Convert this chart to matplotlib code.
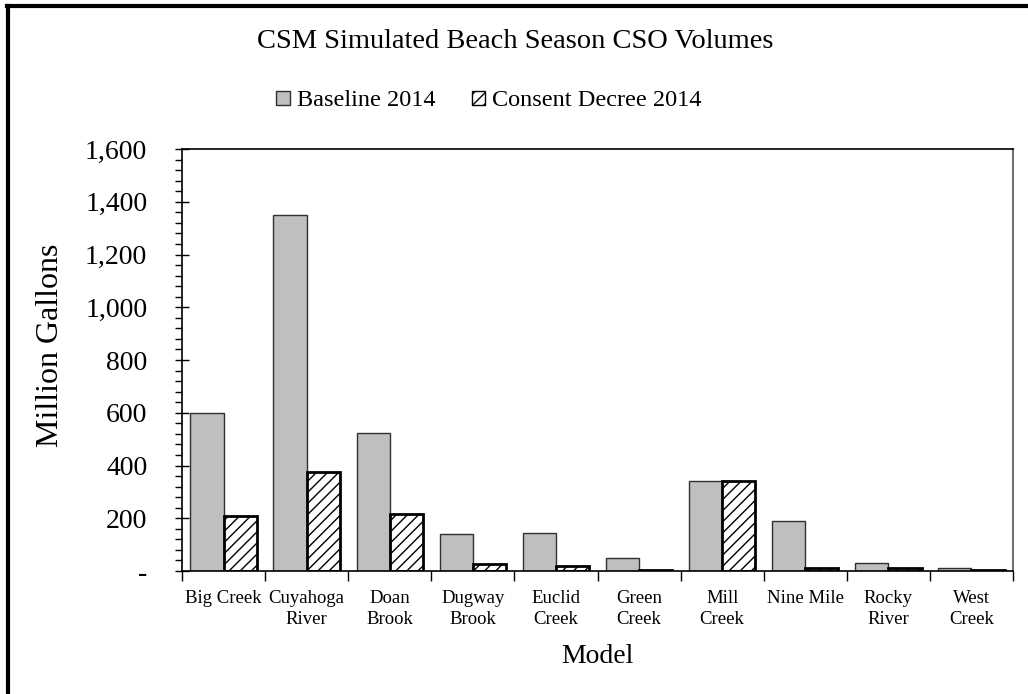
import matplotlib
matplotlib.use("Agg")
import matplotlib.pyplot as plt
import numpy as np
from matplotlib.lines import Line2D
from matplotlib.ticker import MultipleLocator, FuncFormatter

plt.rcParams['font.family'] = ['Liberation Serif', 'DejaVu Serif']
plt.rcParams['hatch.linewidth'] = 1.0

categories = ["Big Creek", "Cuyahoga\nRiver", "Doan\nBrook", "Dugway\nBrook", "Euclid\nCreek",
              "Green\nCreek", "Mill\nCreek", "Nine Mile", "Rocky\nRiver", "West\nCreek"]
baseline_2014 = [600, 1350, 525, 140, 145, 48, 340, 188, 30, 12]
consent_decree_2014 = [210, 375, 215, 25, 20, 3, 340, 10, 10, 3]
series_names = ["Baseline 2014", "Consent Decree 2014"]

fig = plt.figure(figsize=(10.28, 6.94), dpi=100)
ax = fig.add_axes([182/1028, 1 - 571/694, (1013 - 182)/1028, (571 - 149)/694])

x = np.arange(len(categories))
w = 0.4
ax.bar(x - w/2, baseline_2014, width=w, color="#bfbfbf", edgecolor="#303030",
       linewidth=1.0, label=series_names[0], zorder=2)
ax.bar(x + w/2, consent_decree_2014, width=w, color="white", edgecolor="black",
       hatch="///", linewidth=2.0, label=series_names[1], zorder=2)

ax.set_xlim(-0.5, len(categories) - 0.5)
ax.set_ylim(0, 1600)

ax.yaxis.set_major_locator(MultipleLocator(200))
ax.yaxis.set_minor_locator(MultipleLocator(40))
ax.yaxis.set_major_formatter(FuncFormatter(lambda v, p: "-" if v == 0 else f"{int(v):,}"))
ax.tick_params(axis='y', which='major', direction='inout', length=10, width=1,
               labelsize=20, pad=20)
ax.tick_params(axis='y', which='minor', direction='out', length=5, width=1)

ax.set_xticks(x)
ax.set_xticklabels(categories, fontsize=13.5, linespacing=1.3)
ax.tick_params(axis='x', which='major', length=0, pad=14)
ax.set_xticks(np.arange(len(categories) + 1) - 0.5, minor=True)
ax.tick_params(axis='x', which='minor', direction='out', length=7, width=1)

for side in ['left', 'bottom', 'top']:
    ax.spines[side].set_color('black')
    ax.spines[side].set_linewidth(1.2)
ax.spines['right'].set_color('#707070')
ax.spines['right'].set_linewidth(1.5)

ax.set_ylabel("Million Gallons", fontsize=23)
ax.yaxis.set_label_coords(-0.141, 0.535)
ax.set_xlabel("Model", fontsize=20)
ax.xaxis.set_label_coords(0.5, -0.172)

fig.text(0.501, 1 - 42/694, "CSM Simulated Beach Season CSO Volumes",
         ha='center', va='center', fontsize=20.5)

leg = fig.legend(loc='center', bbox_to_anchor=(0.4757, 1 - 101/694), ncol=2,
                 frameon=False, fontsize=17.5, handlelength=0.55, handleheight=0.55,
                 handletextpad=0.3, columnspacing=1.5)
for h in leg.legend_handles:
    h.set_linewidth(1.0)

# outer frame (top and left edges)
fig.add_artist(Line2D([7/1028, 1.0], [1 - 6/694, 1 - 6/694], transform=fig.transFigure,
                      color='black', linewidth=3))
fig.add_artist(Line2D([8/1028, 8/1028], [0.0, 1 - 6/694], transform=fig.transFigure,
                      color='black', linewidth=3))

fig.savefig("out.png", dpi=100)
